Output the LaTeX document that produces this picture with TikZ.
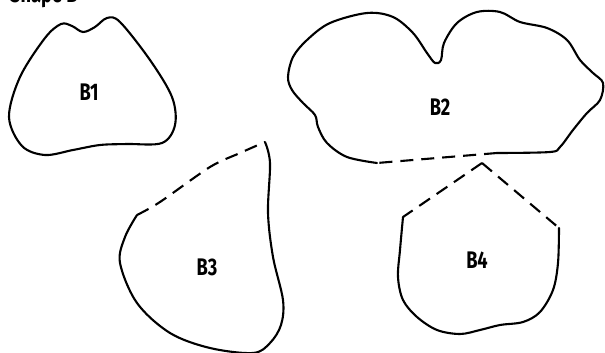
\documentclass[tikz,border=0pt]{standalone}
\usepackage{fontspec}
\newfontfamily\lblfont{Fira Sans}[FakeStretch=0.76]
\begin{document}
\begin{tikzpicture}[x=1pt,y=-1pt,
  outline/.style={line width=2.1pt,line cap=round,line join=round},
  dashedge/.style={line width=2.1pt,dash pattern=on 13pt off 8pt},
  lbl/.style={font=\lblfont\bfseries\fontsize{24}{26}\selectfont,inner sep=0pt}]
\useasboundingbox (0,0) rectangle (605,353);
\node[lbl,anchor=base west] (title) at (10,2.5) {Shape B};
% B1
\draw[outline] plot[smooth cycle,tension=0.55] coordinates {
 (61,24) (72,26) (83,32) (95,27) (107,18) (120,22) (150,60) (172,97)
 (175,125) (162,143) (127,144) (100,145) (73,150) (45,155) (22,146)
 (9,117) (20,77) (45,38)};
\node[lbl] (b1) at (89,92) {B1};
% B2
\draw[outline] plot[smooth,tension=0.55] coordinates {
 (377,163) (347,157) (327,143) (318,127) (315,115) (303,103) (292,90)
 (288,77) (293,57) (307,40) (330,23) (367,13) (393,17) (413,33) (427,53)
 (435,63) (441,60) (444,43) (457,23) (477,12) (500,12) (520,22) (547,28)
 (567,40) (580,60) (593,73) (603,83) (600,100) (587,113) (573,130)
 (560,147) (550,152) (497,153)};
\draw[dashedge] (497,153) -- (377,163);
\node[lbl] (b2) at (440,107) {B2};
% B3
\draw[dashedge] plot[smooth,tension=0.5] coordinates {
 (137,215) (160,202) (210,167) (240,153) (265,142)};
\draw[outline] plot[smooth,tension=0.55] coordinates {
 (265,142) (270,163) (268,213) (273,257) (283,300) (281,325) (270,343)
 (253,353) (210,348) (170,333) (137,303) (120,263) (125,237) (137,215)};
\node[lbl] (b3) at (207,267) {B3};
% B4
\coordinate (apex) at (482,163);
\coordinate (b4l) at (403,217);
\coordinate (b4r) at (559,228);
\draw[dashedge] (apex) -- (b4l);
\draw[dashedge] (apex) -- (b4r);
\draw[outline] plot[smooth,tension=0.55] coordinates {
 (403,217) (400,250) (398,277) (403,300) (417,317) (437,330) (460,334)
 (480,330) (500,325) (523,322) (540,312) (553,290) (558,263) (559,228)};
\node[lbl] (b4) at (477,260) {B4};
\end{tikzpicture}
\end{document}
